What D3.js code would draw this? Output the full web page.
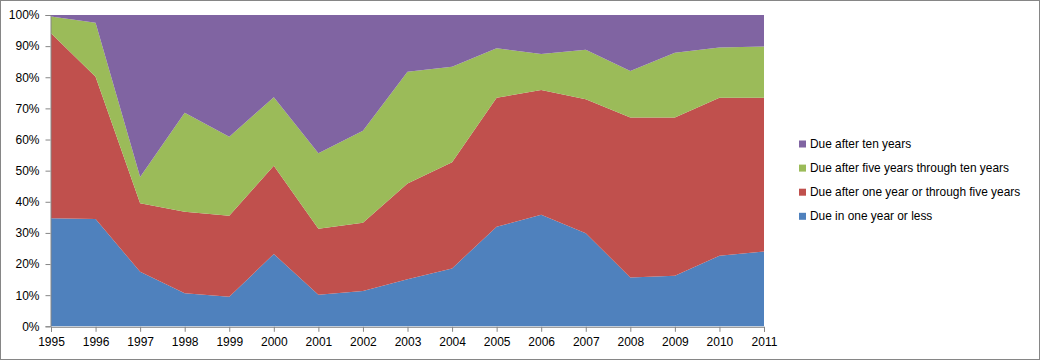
<!DOCTYPE html>
<html>
<head>
<meta charset="utf-8">
<script src="https://cdn.jsdelivr.net/npm/d3@7"></script>
<style>
  body { margin: 0; background: #fff; }
  svg text { font-family: "Liberation Sans", Arial, sans-serif; fill: #000; }
</style>
</head>
<body>
<div id="chart"></div>
<script>
// Maturity distribution, 100% stacked area.
var years = [1995, 1996, 1997, 1998, 1999, 2000, 2001, 2002, 2003, 2004, 2005, 2006, 2007, 2008, 2009, 2010, 2011];

var dueOneYearOrLess = [34.7, 34.5, 17.5, 10.6, 9.5, 23.2, 10.1, 11.3, 15.1, 18.6, 32.0, 35.8, 29.9, 15.7, 16.2, 22.7, 24.0];
var dueOneToFive     = [59.4, 45.7, 22.0, 26.2, 26.0, 28.4, 21.2, 22.0, 30.8, 34.1, 41.4, 40.1, 43.0, 51.4, 50.9, 50.7, 49.4];
var dueFiveToTen     = [5.4, 17.3, 8.5, 31.8, 25.4, 22.0, 24.3, 29.5, 35.9, 30.7, 15.9, 11.6, 15.9, 14.9, 20.8, 16.2, 16.5];
var dueAfterTen      = [0.5, 2.5, 52.0, 31.4, 39.1, 26.4, 44.4, 37.2, 18.2, 16.6, 10.7, 12.5, 11.2, 18.0, 12.1, 10.4, 10.1];

var seriesNames = ["Due in one year or less", "Due after one year or through five years",
                   "Due after five years through ten years", "Due after ten years"];
var seriesColors = ["#4F81BD", "#C0504D", "#9BBB59", "#8064A2"];
var yTicks = [0, 0.1, 0.2, 0.3, 0.4, 0.5, 0.6, 0.7, 0.8, 0.9, 1];

var W = 1041, H = 361;
var m = {left: 51, top: 15, right: 277, bottom: 34.7};

var table = years.map(function(y, i){
  var row = {year: y};
  row[seriesNames[0]] = dueOneYearOrLess[i];
  row[seriesNames[1]] = dueOneToFive[i];
  row[seriesNames[2]] = dueFiveToTen[i];
  row[seriesNames[3]] = dueAfterTen[i];
  return row;
});

var svg = d3.select("#chart").append("svg").attr("width", W).attr("height", H);

// outer frame
svg.append("rect").attr("x", 0.5).attr("y", 0.5).attr("width", W - 2).attr("height", H - 2)
  .style("fill", "#fff").style("stroke", "#868686").style("stroke-width", 1);

var x = d3.scaleLinear().domain([years[0], years[years.length - 1]]).range([m.left, W - m.right]);
var y = d3.scaleLinear().domain([0, 1]).range([H - m.bottom, m.top]);

var stack = d3.stack().keys(seriesNames).offset(d3.stackOffsetExpand);
var layers = stack(table);

var area = d3.area()
  .x(function(d){ return x(d.data.year); })
  .y0(function(d){ return y(d[0]); })
  .y1(function(d){ return y(d[1]); });

svg.append("g").selectAll("path").data(layers).enter().append("path")
  .attr("d", area)
  .style("fill", function(d, i){ return seriesColors[i]; })
  .style("stroke", "none");

// axes
var yAxis = d3.axisLeft(y).tickValues(yTicks).tickFormat(d3.format(".0%")).tickSize(5).tickPadding(6);
var gy = svg.append("g").attr("transform", "translate(" + (m.left - 0.5) + ",0)").call(yAxis);

var xAxis = d3.axisBottom(x).tickValues(years).tickFormat(d3.format("d")).tickSize(5).tickPadding(6);
var gx = svg.append("g").attr("transform", "translate(0," + (H - m.bottom + 0.5) + ")").call(xAxis);

[gy, gx].forEach(function(g){
  g.select(".domain").style("stroke", "#868686");
  g.selectAll(".tick line").style("stroke", "#868686");
  g.selectAll("text").style("font-size", "12px").style("fill", "#000");
});

// legend, top entry is the last series
var legend = svg.append("g").attr("transform", "translate(799,144)");
var order = [3, 2, 1, 0];
var items = legend.selectAll("g").data(order).enter().append("g")
  .attr("transform", function(d, i){ return "translate(0," + (i * 24.1) + ")"; });
items.append("rect").attr("x", 0).attr("y", -3.5).attr("width", 7).attr("height", 7)
  .style("fill", function(d){ return seriesColors[d]; });
items.append("text").attr("x", 11).attr("y", 4)
  .style("font-size", "11.9px")
  .text(function(d){ return seriesNames[d]; });
</script>
</body>
</html>
